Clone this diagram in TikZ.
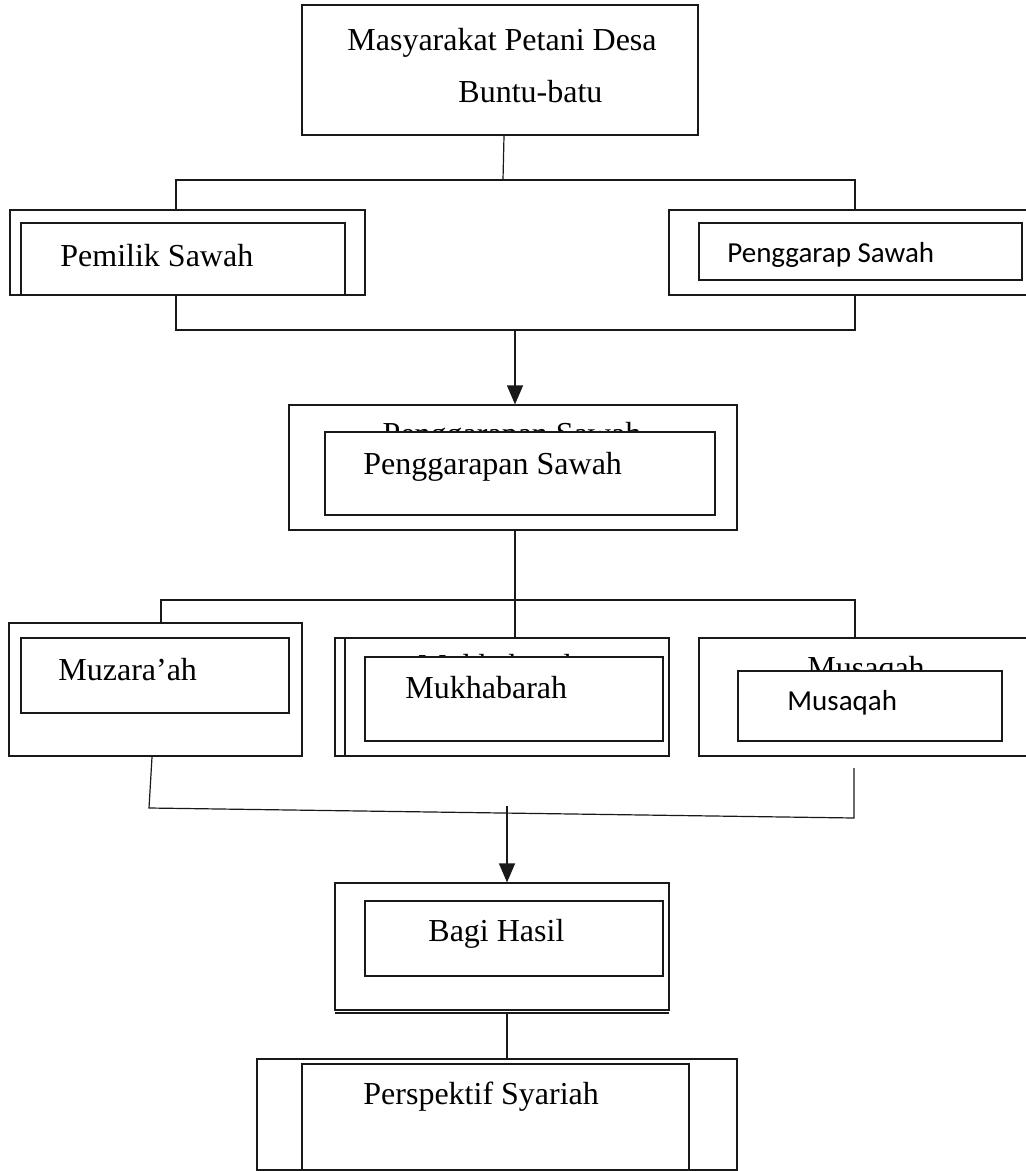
\documentclass[tikz,border=0pt]{standalone}
\usepackage{fontspec}
\setmainfont{Liberation Serif}
\newfontfamily\sansf{Carlito}
\usetikzlibrary{arrows.meta,fit,calc}
\begin{document}
\begin{tikzpicture}[x=0.5pt,y=-0.5pt,
  ln/.style={line width=0.6pt, draw=black!90},
  box/.style={ln, inner sep=0pt, fill=white},
  lbl/.style={inner sep=0pt, anchor=base west, font=\fontsize{16}{19}\selectfont},
  ghost/.style={inner sep=0pt, anchor=base, font=\fontsize{16}{19}\selectfont},
  slbl/.style={inner sep=0pt, anchor=base west, font=\sansf\fontsize{14.5}{17}\selectfont},
  arr/.style={ln, -{Triangle[length=9.5pt,width=8pt]}}]
\useasboundingbox (0,0) rectangle (1026,1171);

% ---------- top box
\node[box, fit={(302,5)(698,135)}] (top) {};
\node[lbl] (topt1) at (347,51) {Masyarakat Petani Desa};
\node[lbl] (topt2) at (458,103) {Buntu-batu};

% ---------- Pemilik Sawah
\node[box, fit={(10,210)(365,295)}] (pem) {};
\node[box, fit={(21,223)(345,295)}] (pemi) {};
\node[lbl] (pemt) at (60,267) {Pemilik Sawah};

% ---------- Penggarap Sawah (right edge cut)
\coordinate (pegNW) at (669,210);
\coordinate (pegSW) at (669,295);
\coordinate (pegN) at (855,210);
\coordinate (pegS) at (855,295);
\draw[ln] (1026,210) -- (pegNW) -- (pegSW) -- (1026,295);
\node[box, fit={(699,223)(1022,280)}] (pegi) {};
\node[slbl] (pegt) at (727,263) {Penggarap Sawah};

% ---------- Penggarapan Sawah
\node[box, fit={(289,405)(737,530)}] (pgn) {};
\node[ghost] (pgng) at (512,444) {Penggarapan Sawah};
\node[box, fit={(325,432)(715,515)}] (pgni) {};
\node[lbl] (pgnt) at (363,474) {Penggarapan Sawah};

% ---------- Muzara'ah
\node[box, fit={(9,623)(302,756)}] (muz) {};
\node[box, fit={(21,638)(289,713)}] (muzi) {};
\node[lbl] (muzt) at (58,680) {Muzara’ah};

% ---------- Mukhabarah
\node[box, fit={(335,638)(669,756)}] (muk) {};
\draw[ln] (345,638) -- (345,756);
\node[ghost] (mukg) at (499,676) {Mukhabarah};
\node[box, fit={(365,657)(663,741)}] (muki) {};
\node[lbl] (mukt) at (405,698) {Mukhabarah};

% ---------- Musaqah (right edge cut)
\coordinate (musN) at (855,638);
\draw[ln, fill=white] (1026,638) -- (699,638) -- (699,756) -- (1026,756);
\node[ghost, anchor=base west] (musg) at (807,678) {Musaqah};
\node[box, fit={(738,671)(1002,741)}] (musi) {};
\node[slbl] (must) at (787,710) {Musaqah};

% ---------- Bagi Hasil
\node[box, fit={(335,883)(669,1010)}] (bagi) {};
\draw[ln] (335,1013) -- (669,1013);
\node[box, fit={(365,901)(663,976)}] (bagii) {};
\node[lbl] (bagit) at (428,941) {Bagi Hasil};

% ---------- Perspektif Syariah
\node[box, fit={(257,1059)(737,1170)}] (per) {};
\node[box, fit={(302,1064)(689,1170)}] (peri) {};
\node[lbl] (pert) at (363,1104) {Perspektif Syariah};

% ---------- connectors
\coordinate (b1L) at (176,180);
\coordinate (b1R) at (855,180);
\coordinate (b1M) at (503,180);
\draw[ln] ($(top.south)+(4,0)$) -- (b1M);
\draw[ln] (pem.north -| b1L) -- (b1L) -- (b1R) -- (pegN);

\coordinate (b2L) at (176,330);
\coordinate (b2R) at (855,330);
\coordinate (b2M) at (515,330);
\draw[ln] (pem.south -| b2L) -- (b2L) -- (b2R) -- (pegS);
\draw[arr] (b2M) -- (pgn.north -| b2M);

\coordinate (b3L) at (161,600);
\coordinate (b3R) at (855,600);
\coordinate (b3M) at (515,600);
\draw[ln] (pgn.south -| b3M) -- (muk.north -| b3M);
\draw[ln] (muz.north -| b3L) -- (b3L) -- (b3R) -- (musN);

\coordinate (m1) at (152,757);
\coordinate (b4L) at (149,808);
\coordinate (b4R) at (854,818);
\coordinate (m3) at (854,768);
\coordinate (b4M) at (507,806);
\draw[ln] (m1) -- (b4L) -- (b4R) -- (m3);
\draw[arr] (b4M) -- (bagi.north -| b4M);

\draw[ln] (507,1013) -- (per.north -| 507,0);
\end{tikzpicture}
\end{document}
